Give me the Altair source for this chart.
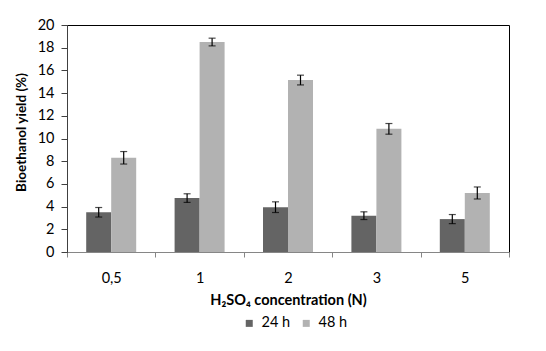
import altair as alt
import pandas as pd

conc = ["0,5", "1", "2", "3", "5"]
series = ["24 h", "48 h"]
y24 = [3.5, 4.75, 3.95, 3.2, 2.9]
y48 = [8.3, 18.5, 15.15, 10.85, 5.2]
e24 = [0.42, 0.38, 0.47, 0.34, 0.40]
e48 = [0.55, 0.34, 0.43, 0.47, 0.53]
y_ticks = [0, 2, 4, 6, 8, 10, 12, 14, 16, 18, 20]
colors = ["#646464", "#b2b2b2"]

rows = []
for i, c in enumerate(conc):
    rows.append(dict(conc=c, series="24 h", val=y24[i], err=e24[i]))
    rows.append(dict(conc=c, series="48 h", val=y48[i], err=e48[i]))
df = pd.DataFrame(rows)

FONT = "Lato"
W, H = 442, 227

xs = alt.Scale(domain=conc, paddingInner=0, paddingOuter=0)
xo = alt.Scale(domain=series, paddingInner=0, paddingOuter=0.768)
ys = alt.Scale(domain=[0, 20], nice=False)

x_axis = alt.Axis(title="H₂SO₄ concentration (N)", tickBand="extent",
                  labelAngle=0, labelFontSize=14.5, labelFont=FONT,
                  labelColor="#000000", labelPadding=14,
                  tickColor="#868686", tickSize=5, domainColor="#868686",
                  titleFont=FONT, titleFontSize=14.5, titleFontWeight="bold",
                  titleColor="#000000", titleY=48, titleBaseline="middle")
y_axis = alt.Axis(title="Bioethanol yield (%)", values=y_ticks,
                  labelOverlap=False,
                  grid=False, labelFontSize=14.5, labelFont=FONT,
                  labelColor="#000000", labelPadding=7,
                  tickColor="#404040", tickSize=6, domainColor="#404040",
                  titleFont=FONT, titleFontSize=13.5, titleFontWeight="bold",
                  titleColor="#000000", titleAngle=-90, titleX=-46, titleY=107,
                  titleAlign="center", titleBaseline="middle")

X = alt.X("conc:N", scale=xs, sort=conc, axis=x_axis)
XO = alt.XOffset("series:N", scale=xo)

base = alt.Chart(df).transform_calculate(
    lo="datum.val - datum.err", hi="datum.val + datum.err"
)

bars = base.mark_bar().encode(
    x=X, xOffset=XO,
    y=alt.Y("val:Q", scale=ys, axis=y_axis),
    color=alt.Color("series:N", scale=alt.Scale(domain=series, range=colors),
                    legend=alt.Legend(title=None, orient="none", direction="horizontal",
                                      legendX=175, legendY=291, symbolType="square",
                                      symbolSize=49, symbolStrokeWidth=0,
                                      labelFont=FONT, labelFontSize=14.5, labelColor="#000000",
                                      labelOffset=5, columnPadding=8)),
)

rules = base.mark_rule(color="black", strokeWidth=1.2).encode(
    x=X, xOffset=XO,
    y=alt.Y("lo:Q", scale=ys, axis=y_axis),
    y2="hi:Q",
)
cap_lo = base.mark_tick(color="black", thickness=1.2, size=7).encode(
    x=X, xOffset=XO,
    y=alt.Y("lo:Q", scale=ys, axis=y_axis),
)
cap_hi = base.mark_tick(color="black", thickness=1.2, size=7).encode(
    x=X, xOffset=XO,
    y=alt.Y("hi:Q", scale=ys, axis=y_axis),
)

chart = alt.layer(bars, rules, cap_lo, cap_hi).properties(
    width=W, height=H,
    autosize=alt.AutoSizeParams(type="none"),
    padding={"left": 67, "top": 25, "right": 37, "bottom": 99},
    background="white",
).configure_view(stroke="black", strokeWidth=1)

chart.save("out.html", embed_options={"renderer": "svg", "actions": False})
